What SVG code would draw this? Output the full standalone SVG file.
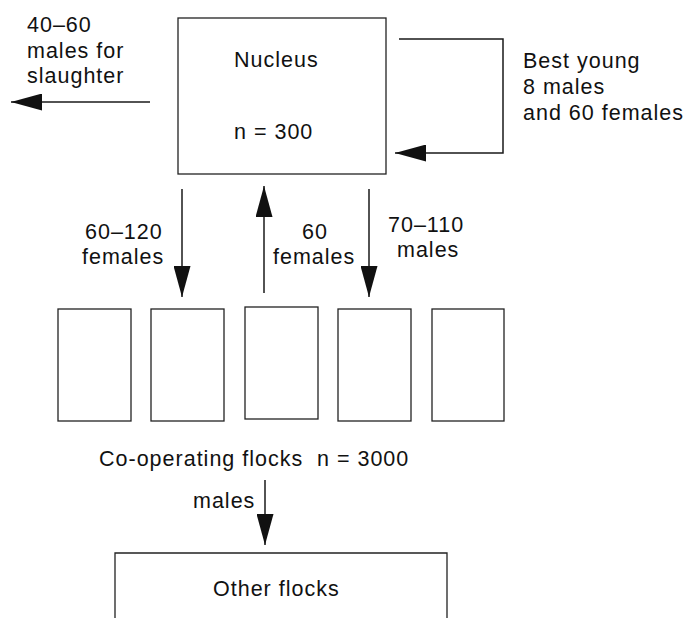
<svg xmlns="http://www.w3.org/2000/svg" width="685" height="618" viewBox="0 0 685 618">
<style>
text{font-family:"Liberation Sans",Arial,sans-serif;font-size:21.5px;letter-spacing:1px;fill:#111}
.box{fill:#fff;stroke:#222;stroke-width:1.3}
.ln{fill:none;stroke:#1a1a1a;stroke-width:1.5}
</style>
<defs>
<marker id="ah" markerWidth="32" markerHeight="17" refX="31" refY="8.5" orient="auto" markerUnits="userSpaceOnUse">
<path d="M0,0 L31,8.5 L0,17 Z" fill="#111"/>
</marker>
</defs>
<rect width="685" height="618" fill="#fff"/>
<g id="nucleus">
<rect class="box" x="178" y="18" width="208" height="156"/>
<text x="234" y="67">Nucleus</text>
<text x="234" y="139">n = 300</text>
</g>
<g id="flock1"><rect class="box" x="58" y="309" width="73" height="112"/></g>
<g id="flock2"><rect class="box" x="151" y="309" width="73" height="112"/></g>
<g id="flock3"><rect class="box" x="245" y="307" width="73" height="112"/></g>
<g id="flock4"><rect class="box" x="338" y="309" width="73" height="112"/></g>
<g id="flock5"><rect class="box" x="432" y="309" width="72" height="112"/></g>
<g id="coop-label"><text x="99" y="466">Co-operating flocks</text><text x="317" y="466">n = 3000</text></g>
<g id="other">
<path class="box" d="M115,618 V553 H447 V618" fill="none"/>
<text x="213" y="596">Other flocks</text>
</g>
<g id="connectors">
<line class="ln" x1="150" y1="102" x2="11" y2="102" marker-end="url(#ah)"/>
<polyline class="ln" points="399,39 503,39 503,153 395,153" marker-end="url(#ah)"/>
<line class="ln" x1="182" y1="189" x2="182" y2="297" marker-end="url(#ah)"/>
<line class="ln" x1="264" y1="293" x2="264" y2="186" marker-end="url(#ah)"/>
<line class="ln" x1="369" y1="189" x2="369" y2="297" marker-end="url(#ah)"/>
<line class="ln" x1="265" y1="480" x2="265" y2="545" marker-end="url(#ah)"/>
</g>
<g id="labels">
<text x="27" y="32">40–60</text>
<text x="27" y="58">males for</text>
<text x="27" y="83">slaughter</text>
<text x="523" y="68">Best young</text>
<text x="523" y="94">8 males</text>
<text x="523" y="120">and 60 females</text>
<text x="85" y="239">60–120</text>
<text x="82" y="264">females</text>
<text x="302" y="239">60</text>
<text x="273" y="264">females</text>
<text x="388" y="232">70–110</text>
<text x="397" y="257">males</text>
<text x="193" y="508">males</text>
</g>
</svg>
